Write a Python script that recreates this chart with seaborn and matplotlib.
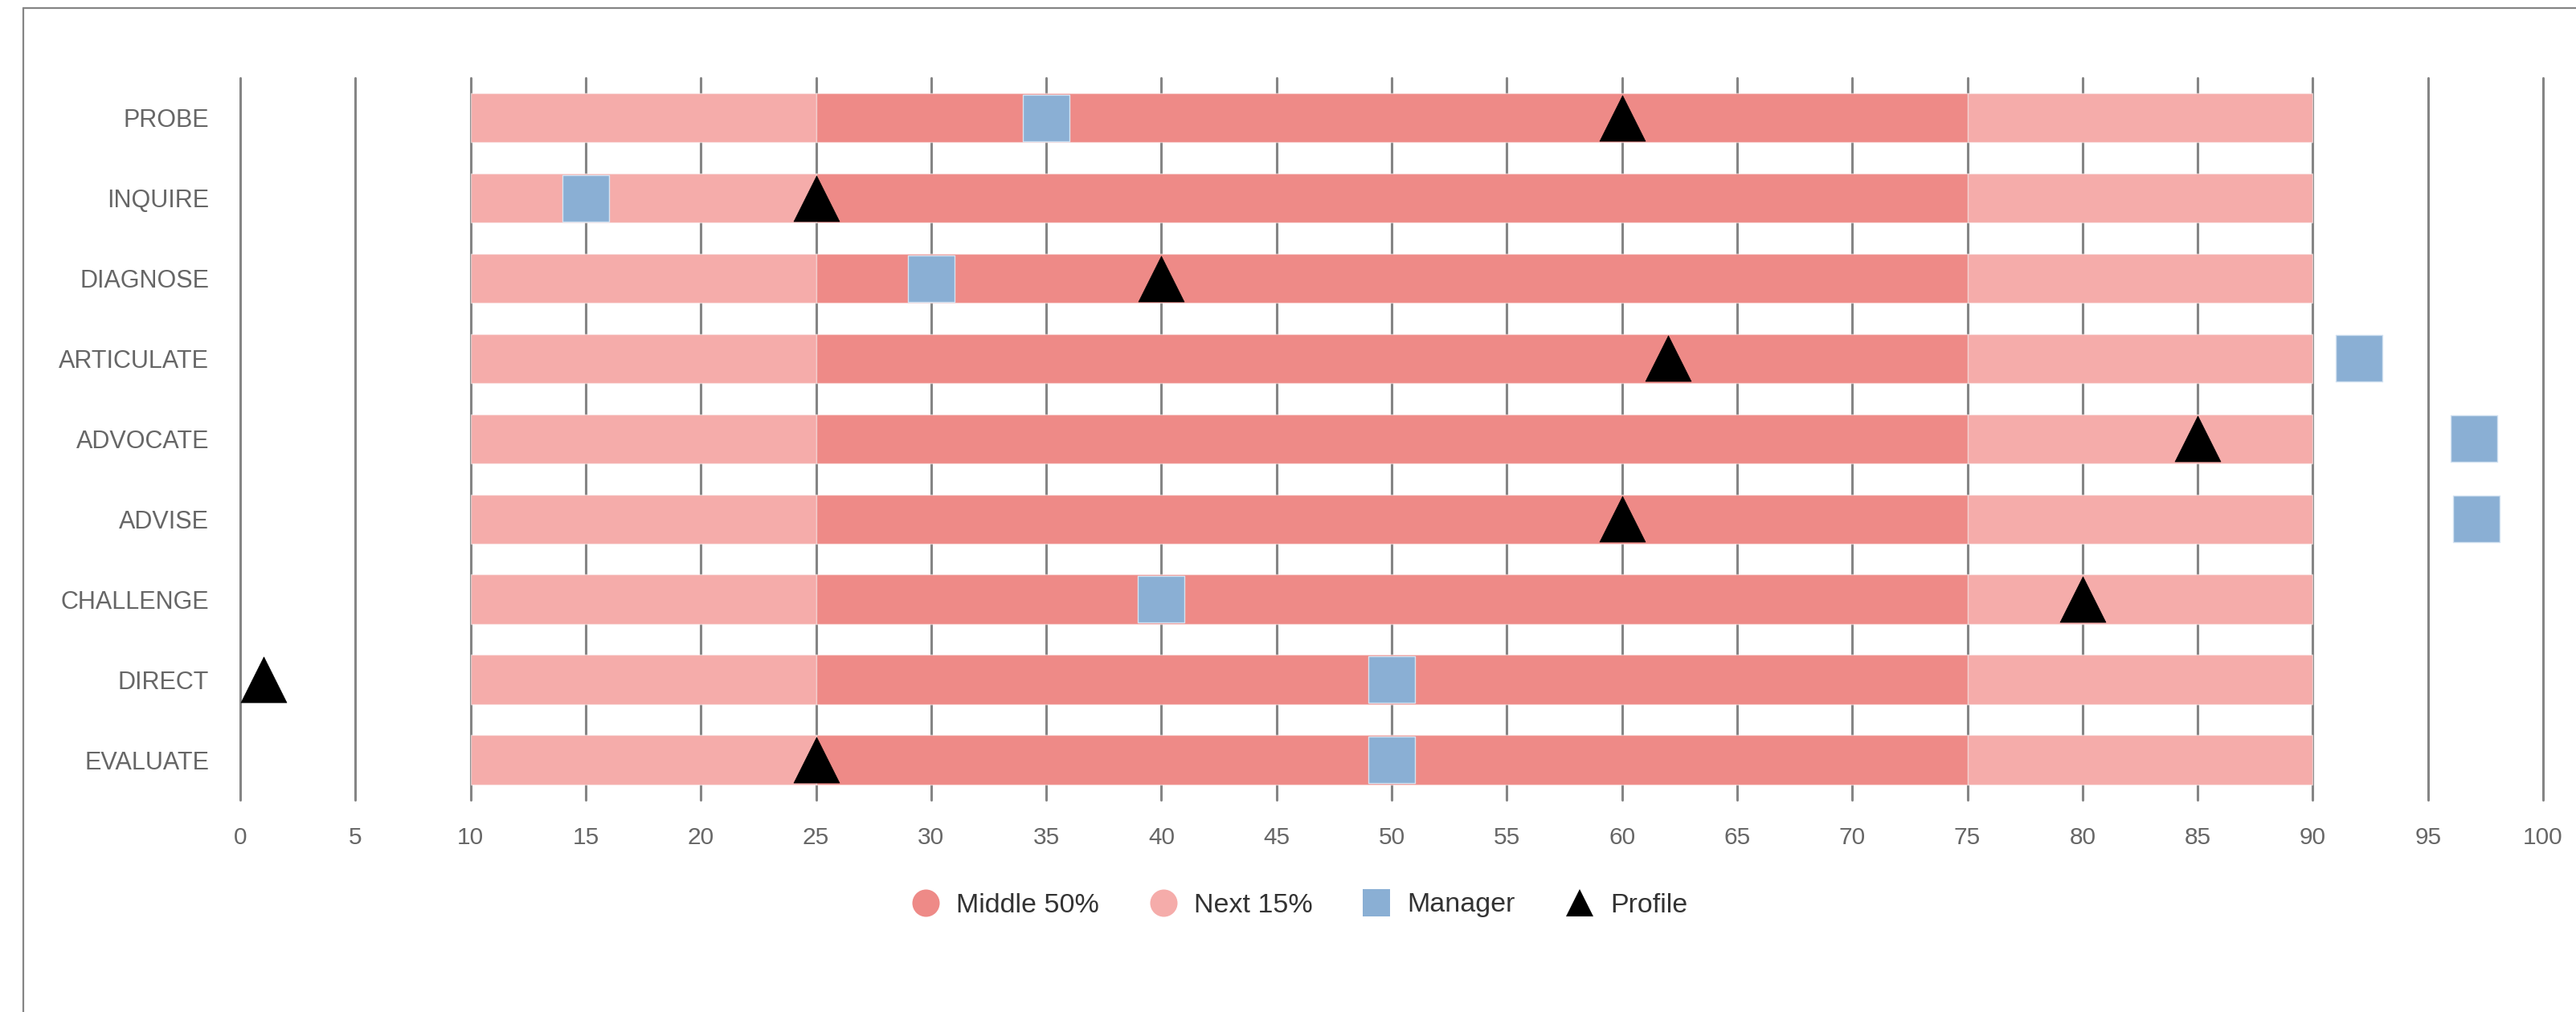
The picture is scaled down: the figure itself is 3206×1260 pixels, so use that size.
import numpy as np
import matplotlib
matplotlib.use("Agg")
import matplotlib.pyplot as plt
from matplotlib.lines import Line2D
import seaborn as sns

# Behaviour categories, top to bottom
categories = ["PROBE", "INQUIRE", "DIAGNOSE", "ARTICULATE", "ADVOCATE",
              "ADVISE", "CHALLENGE", "DIRECT", "EVALUATE"]

# Norm bands (percentiles)
band_low = [10, 10, 10, 10, 10, 10, 10, 10, 10]
mid_low = [25, 25, 25, 25, 25, 25, 25, 25, 25]
mid_high = [75, 75, 75, 75, 75, 75, 75, 75, 75]
band_high = [90, 90, 90, 90, 90, 90, 90, 90, 90]

# Individual scores
manager = [35, 15, 30, 92, 97, 97.1, 40, 50, 50]
profile = [60, 25, 40, 62, 85, 60, 80, 1, 25]

x_ticks = list(range(0, 101, 5))

MID_COLOR = "#EE8A87"
NEXT_COLOR = "#F5ACAA"
MANAGER_COLOR = "#8AAFD4"
PROFILE_COLOR = "#000000"
GRID_COLOR = "#858585"
LABEL_COLOR = "#666666"

sns.set_theme(style="white")
plt.rcParams["font.family"] = ["Liberation Sans", "DejaVu Sans"]

W, H, DPI = 3206, 1260, 100
fig = plt.figure(figsize=(W / DPI, H / DPI), dpi=DPI)
fig.patch.set_facecolor("white")

ax = fig.add_axes([299 / W, 1 - 996 / H, (3165 - 299) / W, (996 - 96.7) / H])
ax.set_facecolor("white")

bar_h = 0.615
edge = (1, 1, 1, 0.45)
ax.barh(categories, np.subtract(mid_low, band_low), left=band_low, height=bar_h,
        color=NEXT_COLOR, edgecolor=edge, linewidth=1.0, zorder=2)
ax.barh(categories, np.subtract(mid_high, mid_low), left=mid_low, height=bar_h,
        color=MID_COLOR, edgecolor=edge, linewidth=1.0, zorder=2)
ax.barh(categories, np.subtract(band_high, mid_high), left=mid_high, height=bar_h,
        color=NEXT_COLOR, edgecolor=edge, linewidth=1.0, zorder=2)

sns.scatterplot(x=manager, y=categories, marker="s", s=41.5 ** 2,
                color=MANAGER_COLOR, edgecolor="#D4E3F2", linewidth=1.0,
                ax=ax, zorder=3, legend=False)
sns.scatterplot(x=profile, y=categories, marker="^", s=41 ** 2,
                color=PROFILE_COLOR, edgecolor=PROFILE_COLOR, linewidth=0.5,
                ax=ax, zorder=4, legend=False)

ax.set_xlim(0, 100)
ax.set_ylim(len(categories) - 0.5, -0.5)
ax.set_xticks(x_ticks)
ax.set_xticklabels([str(t) for t in x_ticks])
ax.set_xlabel("")
ax.set_ylabel("")
for s in ax.spines.values():
    s.set_visible(False)

ax.grid(False)
for t in x_ticks:
    ax.axvline(t, color=GRID_COLOR, linewidth=2.2, zorder=1, clip_on=False)

ax.tick_params(axis="x", length=0, pad=23.5, labelsize=21.5, labelcolor=LABEL_COLOR)
ax.tick_params(axis="y", length=0, pad=28, labelsize=22, labelcolor=LABEL_COLOR)

handles = [
    Line2D([], [], ls="", marker="o", markersize=24.5, color=MID_COLOR,
           markeredgewidth=0, label="Middle 50%"),
    Line2D([], [], ls="", marker="o", markersize=24.5, color=NEXT_COLOR,
           markeredgewidth=0, label="Next 15%"),
    Line2D([], [], ls="", marker="s", markersize=24.5, color=MANAGER_COLOR,
           markeredgewidth=0, label="Manager"),
    Line2D([], [], ls="", marker="^", markersize=24.5, color=PROFILE_COLOR,
           markeredgewidth=0, label="Profile"),
]
leg = fig.legend(handles=handles, loc="center", bbox_to_anchor=(0.5045, 1 - 1127 / H),
                 ncol=4, frameon=False, fontsize=24.5, handlelength=1.0,
                 handletextpad=0.62, columnspacing=1.85, borderpad=0, borderaxespad=0)
for txt in leg.get_texts():
    txt.set_color("#333333")

# Outer frame: top and left edges
fx = 29 / W
fy = 1 - 10 / H
fig.add_artist(Line2D([fx, 1.0], [fy, fy], transform=fig.transFigure,
                      color=GRID_COLOR, linewidth=1.6))
fig.add_artist(Line2D([fx, fx], [0.0, fy], transform=fig.transFigure,
                      color=GRID_COLOR, linewidth=1.6))

fig.savefig("out.png", dpi=DPI, facecolor="white")
